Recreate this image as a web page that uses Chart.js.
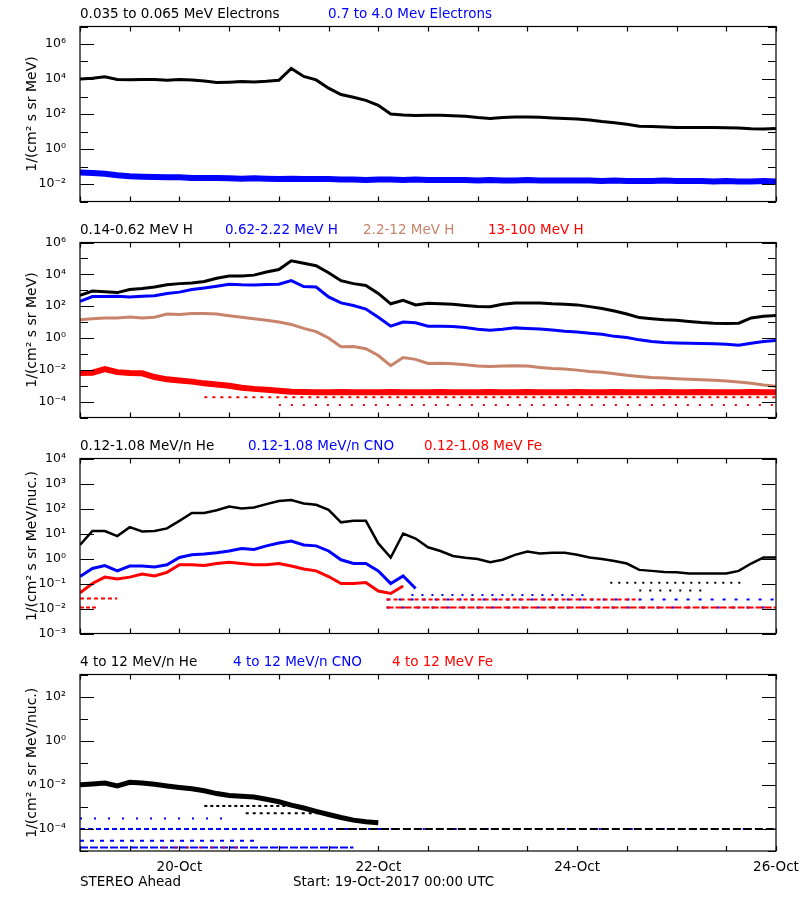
<!DOCTYPE html>
<html lang="en">
<head>
<meta charset="UTF-8">
<title>STEREO Ahead particle fluxes</title>
<script src="https://cdn.jsdelivr.net/npm/chart.js"></script>
<style>
  body { margin: 0; background: #fff; }
  #page { position: relative; width: 800px; height: 900px; font-family: 'DejaVu Sans', sans-serif; }
  canvas { position: absolute; left: 0; }
  .lbl { position: absolute; font-size: 13.5px; line-height: 14px; white-space: nowrap; color: #000; }
  .blue { color: #0000ff; }
  .brown { color: #c8846a; }
  .red { color: #ff0000; }
</style>
</head>
<body>
<div id="page">
  <canvas id="p1" width="800" height="202" style="top:13px"></canvas>
  <canvas id="p2" width="800" height="202" style="top:229px"></canvas>
  <canvas id="p3" width="800" height="202" style="top:445px"></canvas>
  <canvas id="p4" width="800" height="215" style="top:661px"></canvas>

  <div class="lbl" style="left:80px;top:6px">0.035 to 0.065 MeV Electrons</div>
  <div class="lbl blue" style="left:328px;top:6px">0.7 to 4.0 Mev Electrons</div>

  <div class="lbl" style="left:80px;top:222px">0.14-0.62 MeV H</div>
  <div class="lbl blue" style="left:225px;top:222px">0.62-2.22 MeV H</div>
  <div class="lbl brown" style="left:363px;top:222px">2.2-12 MeV H</div>
  <div class="lbl red" style="left:488px;top:222px">13-100 MeV H</div>

  <div class="lbl" style="left:80px;top:438px">0.12-1.08 MeV/n He</div>
  <div class="lbl blue" style="left:248px;top:438px">0.12-1.08 MeV/n CNO</div>
  <div class="lbl red" style="left:424px;top:438px">0.12-1.08 MeV Fe</div>

  <div class="lbl" style="left:80px;top:654px">4 to 12 MeV/n He</div>
  <div class="lbl blue" style="left:233px;top:654px">4 to 12 MeV/n CNO</div>
  <div class="lbl red" style="left:392px;top:654px">4 to 12 MeV Fe</div>

  <div class="lbl" style="left:80px;top:874px">STEREO Ahead</div>
  <div class="lbl" style="left:293px;top:874px">Start: 19-Oct-2017 00:00 UTC</div>
</div>

<script>
// hours since 19-Oct-2017 00:00 UTC, one sample every 3 hours
const hours = [0,3,6,9,12,15,18,21,24,27,30,33,36,39,42,45,48,51,54,57,
               60,63,66,69,72,75,78,81,84,87,90,93,96,99,102,105,108,111,114,117,
               120,123,126,129,132,135,138,141,144,147,150,153,156,159,162,165,168];

const xTickHours = [24, 72, 120, 168];
const xTickLabels = ['20-Oct', '22-Oct', '24-Oct', '26-Oct'];

// panel 1: electrons
const eLow = [10000,11000,13500,9500,9100,9300,9500,8500,9500,8900,
              7600,6300,6600,7100,6800,7400,8500,40000,14000,8900,
              3000,1300,900,600,316,100,89,83,85,85,
              79,74,63,56,63,68,68,66,60,56,
              52,45,37,32,26,20,19,18,17,17,
              17,17,16.6,16,14.5,14,15];
const eHigh = [0.045,0.042,0.038,0.032,0.028,0.026,0.025,0.024,0.024,0.022,
               0.022,0.022,0.021,0.02,0.021,0.02,0.019,0.02,0.019,0.019,
               0.019,0.018,0.018,0.017,0.018,0.018,0.017,0.018,0.017,0.017,
               0.017,0.017,0.016,0.017,0.016,0.016,0.017,0.016,0.016,0.016,
               0.016,0.016,0.015,0.016,0.015,0.015,0.015,0.016,0.015,0.015,
               0.015,0.014,0.015,0.014,0.014,0.015,0.014];

// panel 2: protons
const h1 = [480,890,790,710,1100,1300,1600,2200,2600,2800,
            3500,5600,7900,7900,8900,14000,20000,70000,50000,35000,
            12600,4000,2600,2000,630,140,230,120,150,140,
            130,110,95,93,130,160,160,160,140,130,
            120,93,71,50,32,19,16,14,13,11,
            9.3,8.5,8.1,8.5,18,23,26];
const h2 = [200,400,400,420,380,420,450,630,760,1100,
            1400,1800,2400,2200,2100,2300,2400,4000,1700,1600,
            380,160,110,66,20,5.5,10,9,5.5,5.5,
            5.2,4.5,3.5,3,3.5,4.3,4,3.7,3.2,2.6,
            2.4,2,1.7,1.26,1.07,0.76,0.6,0.52,0.49,0.47,
            0.45,0.43,0.4,0.35,0.47,0.6,0.68];
const h3 = [14,16,18,18,21,18,20,32,30,35,
            35,32,25,20,16,13,10,7.1,4,2.5,
            1,0.28,0.29,0.21,0.079,0.018,0.059,0.045,0.025,0.026,
            0.024,0.021,0.017,0.016,0.017,0.018,0.017,0.014,0.012,0.011,
            0.0095,0.0079,0.0071,0.0056,0.0045,0.0038,0.0033,0.003,0.0027,0.0025,
            0.0024,0.0022,0.002,0.0017,0.0014,0.0011,0.00093];
const h4 = [0.0063,0.0066,0.011,0.0071,0.0063,0.006,0.0035,0.0025,0.0021,0.0018,
            0.0014,0.0012,0.001,0.00074,0.00063,0.00056,0.00048,0.00042,0.0004,0.00038,
            0.00039,0.0004,0.00038,0.00039,0.00038,0.0004,0.00039,0.00038,0.00039,0.0004,
            0.00038,0.00039,0.00038,0.0004,0.00039,0.00038,0.0004,0.00039,0.00038,0.00039,
            0.0004,0.00038,0.00039,0.0004,0.00039,0.00038,0.00039,0.0004,0.00038,0.00039,
            0.0004,0.00039,0.00038,0.00039,0.0004,0.00039,0.00038];
// sparse one-count levels [from hour, to hour, flux]
const h4Row1 = [30, 168, 1.9e-4];
const h4Row2 = [48, 168, 6e-5];

// panel 3: low energy ions (arrays end where the series stops)
const loHe = [3.5,12.6,12.6,7.9,18,12,12.6,16,32,66,
              66,85,120,100,110,150,200,220,160,140,
              89,28,32,32,4,1.1,10,6.3,2.8,2,
              1.26,1.07,0.95,0.71,0.89,1.4,1.9,1.6,1.7,1.7,
              1.4,1.1,0.95,0.79,0.63,0.35,0.32,0.29,0.28,0.25,
              0.25,0.25,0.25,0.32,0.63,1.1,1.1];
const loCno = [0.19,0.4,0.52,0.32,0.5,0.5,0.46,0.56,1.1,1.4,
               1.5,1.7,2,2.5,2.3,3.2,4.2,5,3.5,3.2,
               2,0.89,0.63,0.63,0.32,0.1,0.2,0.063];
const loFe = [0.042,0.1,0.18,0.15,0.18,0.24,0.2,0.28,0.56,0.56,
              0.52,0.63,0.71,0.63,0.56,0.56,0.63,0.5,0.38,0.32,
              0.19,0.1,0.1,0.11,0.05,0.04,0.079];
const loFeFloor = [74, 168, 1.1e-2];
const loFeMid = [74, 135, 2.3e-2];
const loCnoMid = [74, 168, 2.3e-2];
const loCnoHigh = [80, 123, 3.5e-2];
const loFeEarly = [0, 9, 2.5e-2];
const loFeEarly2 = [0, 4, 1.1e-2];
const loHeRow1 = [128, 160, 0.107];
const loHeRow2 = [135, 150, 0.052];

// panel 4: high energy ions
const hiHe = [0.01,0.011,0.012,0.0089,0.013,0.012,0.0105,0.0089,0.0076,0.0066,
              0.0054,0.004,0.0033,0.003,0.0028,0.0022,0.0017,0.0012,0.00089,0.00063,
              0.00045,0.00033,0.00025,0.00021,0.00019];
const hiHeRow1 = [30, 51, 1.1e-3];
const hiHeRow2 = [40, 58, 5.2e-4];
const hiHeFloor = [62, 168, 1e-4];
const hiCnoFloor = [0, 75, 1e-4];
const hiCnoFloorLate = [75, 168, 1e-4];
const hiCnoRow2 = [0, 42, 2.9e-5];
const hiCnoRow3 = [0, 66, 1.45e-5];
const hiCnoScatter = [0, 36, 3e-4];
const hiFeRow3 = [20, 40, 1.45e-5];

const BLUE = '#0000ff', RED = '#ff0000', BROWN = '#c8846a', BLACK = '#000000';
const FONT = 'DejaVu Sans';

function series(vals, color, width) {
  return {
    data: vals.map((v, i) => ({x: hours[i], y: v})),
    borderColor: color, borderWidth: width || 3
  };
}
function row(r, color, dash, width) {
  return {
    data: [{x: r[0], y: r[2]}, {x: r[1], y: r[2]}],
    borderColor: color, borderWidth: width || 2, borderDash: dash
  };
}

// box with inward tick marks, like the IDL plots
const frame = {
  id: 'frame',
  afterDraw(chart) {
    const {ctx, chartArea: a, scales: {x, y}} = chart;
    ctx.save();
    ctx.strokeStyle = '#000';
    ctx.lineWidth = 1.2;
    ctx.strokeRect(a.left, a.top, a.right - a.left, a.bottom - a.top);
    ctx.beginPath();
    y.ticks.forEach(t => {
      const py = Math.round(y.getPixelForValue(t.value)) + 0.5;
      const len = t.label ? 14 : 8;
      ctx.moveTo(a.left, py); ctx.lineTo(a.left + len, py);
      ctx.moveTo(a.right, py); ctx.lineTo(a.right - len, py);
    });
    x.ticks.forEach(t => {
      const px = Math.round(x.getPixelForValue(t.value)) + 0.5;
      ctx.moveTo(px, a.bottom); ctx.lineTo(px, a.bottom - 5);
      ctx.moveTo(px, a.top); ctx.lineTo(px, a.top + 5);
    });
    ctx.stroke();
    ctx.restore();
  }
};

function panel(id, yMin, yMax, decades, major, labels, yTitle, datasets, showX) {
  return new Chart(document.getElementById(id), {
    type: 'line',
    data: { datasets: datasets },
    plugins: [frame],
    options: {
      responsive: false,
      animation: false,
      devicePixelRatio: 1,
      layout: { padding: { top: 10, right: 24, left: 0, bottom: 0 } },
      plugins: { legend: { display: false }, tooltip: { enabled: false } },
      elements: { point: { radius: 0 }, line: { tension: 0 } },
      scales: {
        x: {
          type: 'linear', min: 0, max: 168,
          grid: { display: false }, border: { display: false },
          ticks: {
            display: showX, stepSize: 12, autoSkip: false, maxRotation: 0,
            color: '#000', padding: 0, font: { family: FONT, size: 13.5 },
            callback: v => {
              const i = xTickHours.indexOf(v);
              return i >= 0 ? xTickLabels[i] : '';
            }
          },
          afterFit: s => { s.height = showX ? 25 : 12; }
        },
        y: {
          type: 'logarithmic', min: yMin, max: yMax,
          grid: { display: false }, border: { display: false },
          afterBuildTicks: s => { s.ticks = decades.map(v => ({value: v})); },
          ticks: {
            autoSkip: false, color: '#000', padding: 6,
            font: { family: FONT, size: 12.5 },
            callback: v => {
              const i = major.indexOf(v);
              return i >= 0 ? labels[i] : '';
            }
          },
          title: {
            display: true, text: yTitle, color: '#000',
            font: { family: FONT, size: 14 }, padding: { top: 24, bottom: 0 }
          },
          afterFit: s => { s.width = 80; }
        }
      }
    }
  });
}

panel('p1', 1e-3, 1e7,
  [1e-3,1e-2,1e-1,1,1e1,1e2,1e3,1e4,1e5,1e6,1e7],
  [1e-2,1,1e2,1e4,1e6], ['10⁻²','10⁰','10²','10⁴','10⁶'],
  '1/(cm² s sr MeV)',
  [series(eLow, BLACK), series(eHigh, BLUE, 6)], false);

panel('p2', 1e-5, 1e6,
  [1e-5,1e-4,1e-3,1e-2,1e-1,1,1e1,1e2,1e3,1e4,1e5,1e6],
  [1e-4,1e-2,1,1e2,1e4,1e6], ['10⁻⁴','10⁻²','10⁰','10²','10⁴','10⁶'],
  '1/(cm² s sr MeV)',
  [series(h1, BLACK), series(h2, BLUE), series(h3, BROWN), series(h4, RED, 6),
   row(h4Row1, RED, [3, 5]), row(h4Row2, RED, [2, 10])], false);

panel('p3', 1e-3, 1e4,
  [1e-3,1e-2,1e-1,1,1e1,1e2,1e3,1e4],
  [1e-3,1e-2,1e-1,1,1e1,1e2,1e3,1e4],
  ['10⁻³','10⁻²','10⁻¹','10⁰','10¹','10²','10³','10⁴'],
  '1/(cm² s sr MeV/nuc.)',
  [series(loHe, BLACK, 2.5), series(loCno, BLUE, 3), series(loFe, RED, 3),
   row(loFeFloor, RED, [7, 2]), row(loFeFloor, BLUE, [3, 12]),
   row(loFeMid, RED, [4, 3]), row(loCnoMid, BLUE, [3, 9]),
   row(loCnoHigh, BLUE, [2, 8]), row(loFeEarly, RED, [4, 3]), row(loFeEarly2, RED, [4, 2]),
   row(loHeRow1, BLACK, [2, 6]), row(loHeRow2, BLACK, [2, 8])], false);

panel('p4', 1e-5, 1e3,
  [1e-5,1e-4,1e-3,1e-2,1e-1,1,1e1,1e2,1e3],
  [1e-4,1e-2,1,1e2], ['10⁻⁴','10⁻²','10⁰','10²'],
  '1/(cm² s sr MeV/nuc.)',
  [series(hiHe, BLACK, 5), row(hiHeRow1, BLACK, [3, 3]), row(hiHeRow2, BLACK, [3, 4]),
   row(hiHeFloor, BLACK, [8, 3]),
   row(hiFeRow3, RED, [2, 10]),
   row(hiCnoFloor, BLUE, [5, 3]), row(hiCnoFloorLate, BLUE, [2, 14]),
   row(hiCnoRow2, BLUE, [4, 6]), row(hiCnoRow3, BLUE, [8, 2]),
   row(hiCnoScatter, BLUE, [2, 12])], true);
</script>
</body>
</html>
